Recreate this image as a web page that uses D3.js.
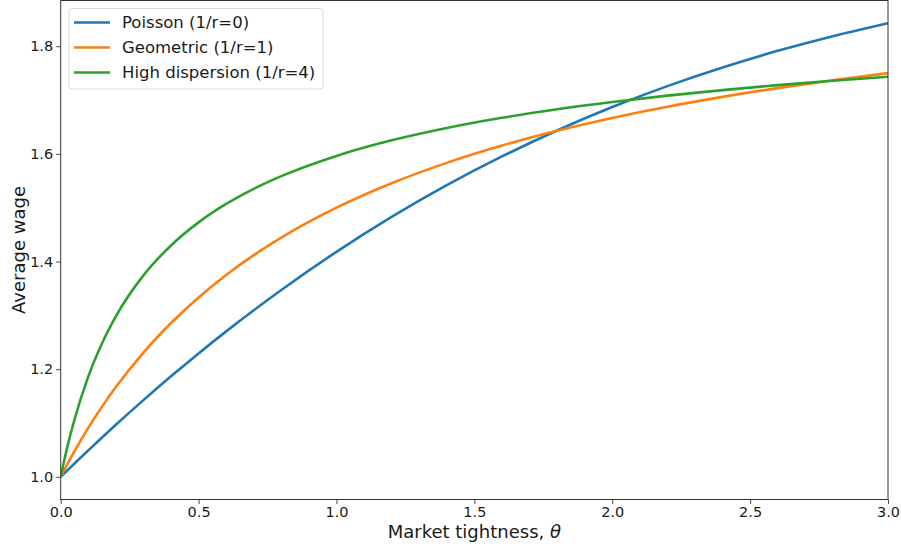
<!DOCTYPE html>
<html>
<head>
<meta charset="utf-8">
<script src="https://cdn.jsdelivr.net/npm/d3@7"></script>
<style>
  html, body { margin: 0; padding: 0; background: #fff; }
  svg { display: block; font-family: "DejaVu Sans", sans-serif; }
</style>
</head>
<body>
<svg id="chart" width="901" height="548"></svg>
<script>
// Market tightness grid shared by all three wage curves
const theta = [0, 0.01, 0.025, 0.05, 0.1, 0.15, 0.2, 0.3, 0.4, 0.5, 0.6, 0.7, 0.8,
               1.0, 1.2, 1.4, 1.6, 1.8, 2.0, 2.2, 2.4, 2.6, 2.8, 3.0];

// Average wage for each applicant-count distribution
const poisson = [1.0000, 1.0050, 1.0124, 1.0248, 1.0492, 1.0731, 1.0967, 1.1425, 1.1867, 1.2293,
                 1.2702, 1.3095, 1.3472, 1.4180, 1.4828, 1.5418, 1.5952, 1.6435, 1.6870, 1.7259,
                 1.7606, 1.7914, 1.8187, 1.8428];
const geometric = [1.0000, 1.0099, 1.0244, 1.0476, 1.0909, 1.1304, 1.1667, 1.2308, 1.2857, 1.3333,
                   1.3750, 1.4118, 1.4444, 1.5000, 1.5455, 1.5833, 1.6154, 1.6429, 1.6667, 1.6875,
                   1.7059, 1.7222, 1.7368, 1.7500];
const highDispersion = [1.0000, 1.0241, 1.0575, 1.1065, 1.1861, 1.2481, 1.2981, 1.3742, 1.4298, 1.4727,
                        1.5069, 1.5350, 1.5586, 1.5962, 1.6251, 1.6481, 1.6670, 1.6829, 1.6964, 1.7082,
                        1.7185, 1.7277, 1.7359, 1.7433];

const seriesNames = ["Poisson (1/r=0)", "Geometric (1/r=1)", "High dispersion (1/r=4)"];
const seriesColors = ["#1f77b4", "#ff7f0e", "#2ca02c"];
const xTicks = [0, 0.5, 1.0, 1.5, 2.0, 2.5, 3.0];
const yTicks = [1.0, 1.2, 1.4, 1.6, 1.8];

const series = [poisson, geometric, highDispersion].map((vals, i) => ({
  name: seriesNames[i],
  color: seriesColors[i],
  points: theta.map((t, j) => [t, vals[j]])
}));

const svg = d3.select("#chart");
const plot = { left: 60.7, right: 888, top: 0.5, bottom: 499.5 };

const x = d3.scaleLinear().domain([0, 3]).range([plot.left, plot.right]);
const yMin = 1.0, yMax = 1.8428, pad = (yMax - yMin) * 0.05;
const y = d3.scaleLinear().domain([yMin - pad, yMax + pad]).range([plot.bottom, plot.top]);

// Curves, clipped to the axes box
svg.append("clipPath").attr("id", "clip")
  .append("rect")
  .attr("x", plot.left).attr("y", plot.top)
  .attr("width", plot.right - plot.left).attr("height", plot.bottom - plot.top);

const line = d3.line()
  .x(d => x(d[0]))
  .y(d => y(d[1]))
  .curve(d3.curveMonotoneX);

svg.append("g").attr("clip-path", "url(#clip)")
  .selectAll("path")
  .data(series)
  .join("path")
  .attr("d", d => line(d.points))
  .attr("fill", "none")
  .attr("stroke", d => d.color)
  .attr("stroke-width", 2.6)
  .attr("stroke-linejoin", "round")
  .attr("stroke-linecap", "butt");

// Axes
const xAxis = d3.axisBottom(x).tickValues(xTicks).tickFormat(d3.format(".1f"))
  .tickSize(4.5).tickPadding(2.5);
const yAxis = d3.axisLeft(y).tickValues(yTicks).tickFormat(d3.format(".1f"))
  .tickSize(4.5).tickPadding(3);

const gx = svg.append("g").attr("transform", `translate(0,${plot.bottom})`).call(xAxis);
const gy = svg.append("g").attr("transform", `translate(${plot.left},0)`).call(yAxis);
[gx, gy].forEach(g => {
  g.select(".domain").remove();
  g.selectAll(".tick line").attr("stroke", "#333").attr("stroke-width", 0.9);
  g.selectAll(".tick text").attr("fill", "#1a1a1a")
    .style("font-size", "14.5px").style("font-family", "DejaVu Sans, sans-serif");
});

// Frame around the plotting area
svg.append("rect")
  .attr("x", plot.left).attr("y", plot.top)
  .attr("width", plot.right - plot.left).attr("height", plot.bottom - plot.top)
  .attr("fill", "none").attr("stroke", "#333").attr("stroke-width", 1);

// Axis titles
svg.append("text")
  .attr("x", (plot.left + plot.right) / 2).attr("y", 537.5)
  .attr("text-anchor", "middle")
  .style("font-size", "18px").attr("fill", "#1a1a1a")
  .text("Market tightness, ")
  .append("tspan").style("font-style", "italic").text("θ");

svg.append("text")
  .attr("transform", `translate(25,${(plot.top + plot.bottom) / 2}) rotate(-90)`)
  .attr("text-anchor", "middle")
  .style("font-size", "18px").attr("fill", "#1a1a1a")
  .text("Average wage");

// Legend
const legend = svg.append("g");
legend.append("rect")
  .attr("x", 69).attr("y", 8.5).attr("width", 254).attr("height", 80.5)
  .attr("rx", 3).attr("fill", "#fff").attr("fill-opacity", 0.8)
  .attr("stroke", "#d9d9d9").attr("stroke-width", 1);

const rows = legend.selectAll("g.row").data(series).join("g")
  .attr("class", "row")
  .attr("transform", (d, i) => `translate(0,${22.5 + i * 25})`);
rows.append("line")
  .attr("x1", 74).attr("x2", 110)
  .attr("stroke", d => d.color).attr("stroke-width", 2.6);
rows.append("text")
  .attr("x", 122).attr("dy", "0.35em")
  .style("font-size", "16.5px").attr("fill", "#1a1a1a")
  .text(d => d.name);
</script>
</body>
</html>
